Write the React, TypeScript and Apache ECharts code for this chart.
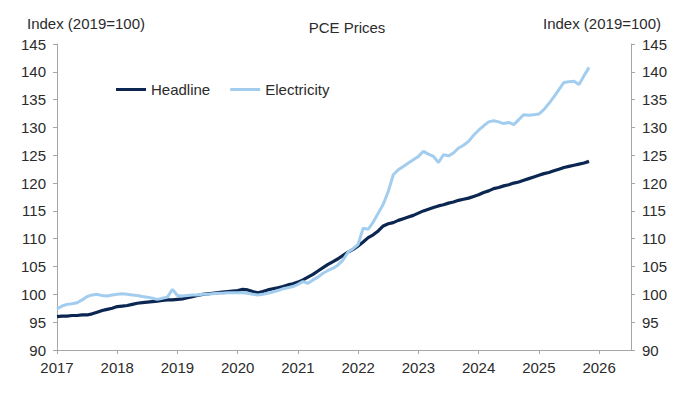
import React, { useEffect, useRef } from "react";
import * as echarts from "echarts";

// Monthly observations, Jan 2017 .. Nov 2025 (Index, 2019=100)
const startYear = 2017;
const headline: number[] = [
  96.0, 96.1, 96.1, 96.2, 96.2, 96.3, 96.3, 96.5, 96.8, 97.1, 97.3, 97.5,
  97.8, 97.9, 98.0, 98.2, 98.4, 98.5, 98.6, 98.7, 98.8, 98.9, 99.0, 99.0,
  99.1, 99.2, 99.4, 99.6, 99.8, 100.0, 100.1, 100.2, 100.3, 100.4, 100.5, 100.6,
  100.7, 100.9, 100.8, 100.5, 100.3, 100.5, 100.8, 101.0, 101.2, 101.4, 101.7, 101.9,
  102.2, 102.6, 103.1, 103.6, 104.2, 104.8, 105.4, 105.9, 106.4, 107.0, 107.6, 108.1,
  108.7, 109.4, 110.2, 110.7, 111.4, 112.3, 112.7, 112.9, 113.3, 113.6, 113.9, 114.2,
  114.6, 115.0, 115.3, 115.6, 115.9, 116.1, 116.4, 116.6, 116.9, 117.1, 117.3, 117.6,
  117.9, 118.3, 118.6, 119.0, 119.2, 119.5, 119.7, 120.0, 120.2, 120.5, 120.8, 121.1,
  121.4, 121.7, 121.9, 122.2, 122.5, 122.8, 123.0, 123.2, 123.4, 123.6, 123.9,
];
const electricity: number[] = [
  97.4, 97.9, 98.2, 98.3, 98.5, 99.0, 99.6, 99.9, 100.0, 99.8, 99.7, 99.9,
  100.0, 100.1, 100.0, 99.9, 99.8, 99.6, 99.5, 99.3, 99.1, 99.3, 99.5, 100.9,
  99.8, 99.7, 99.8, 99.9, 99.9, 100.0, 100.0, 100.1, 100.2, 100.2, 100.3, 100.3,
  100.3, 100.3, 100.2, 100.0, 99.9, 100.0, 100.2, 100.4, 100.7, 101.0, 101.2, 101.4,
  101.8, 102.3, 102.0, 102.6, 103.1, 103.8, 104.3, 104.7, 105.3, 106.2, 107.6, 108.2,
  109.0, 111.9, 111.7, 113.0, 114.6, 116.2, 118.5, 121.5, 122.4, 123.0, 123.6, 124.2,
  124.8, 125.7, 125.2, 124.8, 123.7, 125.1, 124.9, 125.4, 126.3, 126.8, 127.5, 128.6,
  129.5, 130.3, 131.0, 131.2, 131.0, 130.7, 130.9, 130.5, 131.4, 132.3, 132.2, 132.3,
  132.4, 133.2, 134.3, 135.5, 136.8, 138.1, 138.2, 138.3, 137.7, 139.3, 140.8,
];
const yearTicks: number[] = [2017, 2018, 2019, 2020, 2021, 2022, 2023, 2024, 2025, 2026];
const seriesNames = ["Headline", "Electricity"];
const chartTitle = "PCE Prices";
const axisTitle = "Index (2019=100)";

const toPairs = (vals: number[]) => vals.map((v, i) => [startYear + i / 12, v]);

export default function App() {
  const ref = useRef<HTMLDivElement>(null);
  useEffect(() => {
    if (!ref.current) return;
    const chart = echarts.init(ref.current, null, { renderer: "svg" });
    const font = "'Liberation Sans', Arial, sans-serif";
    const txt = "#2b2b2b";
    const axisCol = "#a6a6a6";
    const yAxisBase = {
      type: "value" as const,
      min: 90,
      max: 145,
      interval: 5,
      splitLine: { show: false },
      axisLine: { show: true, lineStyle: { color: axisCol, width: 1 } },
      axisTick: { show: true, inside: false, length: 4, lineStyle: { color: axisCol } },
      axisLabel: { color: txt, fontSize: 15, fontFamily: font, margin: 11 },
    };
    chart.setOption({
      animation: false,
      backgroundColor: "#ffffff",
      grid: { left: 57, right: 65, top: 44, bottom: 43, containLabel: false },
      title: {
        text: chartTitle,
        left: 342,
        textAlign: "center",
        top: 15,
        textStyle: { fontSize: 15, fontWeight: "normal", color: txt, fontFamily: font },
      },
      legend: {
        data: seriesNames,
        left: 116,
        top: 82,
        padding: 0,
        icon: "rect",
        itemWidth: 30,
        itemHeight: 3,
        itemGap: 20,
        textStyle: { fontSize: 15, color: txt, fontFamily: font },
      },
      graphic: [
        {
          type: "text",
          left: 27,
          top: 16,
          style: { text: axisTitle, fontSize: 15, fill: txt, fontFamily: font },
        },
        {
          type: "text",
          right: 35,
          top: 16,
          style: { text: axisTitle, fontSize: 15, fill: txt, fontFamily: font },
        },
      ],
      xAxis: {
        type: "value",
        min: 2017,
        max: 2026.53,
        interval: 1,
        splitLine: { show: false },
        axisLine: { show: true, lineStyle: { color: axisCol, width: 1 } },
        axisTick: {
          show: true,
          length: 4,
          lineStyle: { color: axisCol },
          customValues: yearTicks,
        },
        axisLabel: {
          color: txt,
          fontSize: 15,
          fontFamily: font,
          margin: 10,
          customValues: yearTicks,
          formatter: (v: number) => String(Math.round(v)),
        },
      },
      yAxis: [
        { ...yAxisBase, position: "left" },
        { ...yAxisBase, position: "right" },
      ],
      series: [
        {
          name: seriesNames[0],
          type: "line",
          data: toPairs(headline),
          showSymbol: false,
          yAxisIndex: 0,
          lineStyle: { width: 3.2, color: "#0b2650" },
          itemStyle: { color: "#0b2650" },
          z: 2,
        },
        {
          name: seriesNames[1],
          type: "line",
          data: toPairs(electricity),
          showSymbol: false,
          yAxisIndex: 0,
          lineStyle: { width: 3, color: "#a3cdee" },
          itemStyle: { color: "#a3cdee" },
          z: 3,
        },
      ],
    });
    return () => chart.dispose();
  }, []);
  return (
    <div
      ref={ref}
      style={{ position: "fixed", left: 0, top: 0, width: 696, height: 393 }}
    />
  );
}
